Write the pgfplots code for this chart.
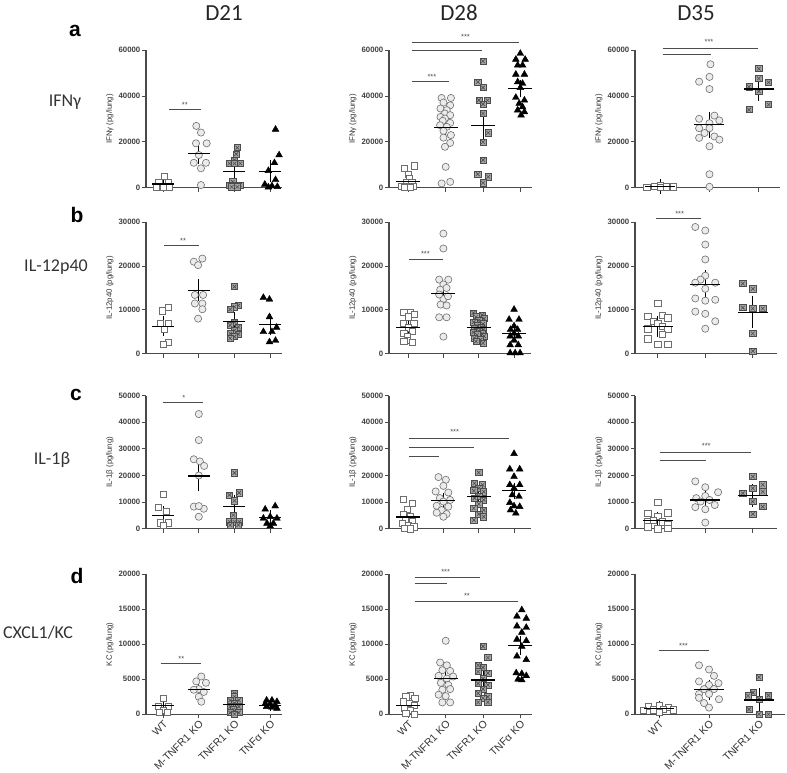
\documentclass[border=0pt]{standalone}
\usepackage{fontspec}
\setmainfont{Liberation Sans}
\newfontfamily\calfont{Carlito}
\usepackage{pgfplots}
\pgfplotsset{compat=1.18}
\definecolor{axgray}{HTML}{4A4A4A}
\definecolor{mkgray}{HTML}{6E6E6E}
\pgfdeclareplotmark{boxx}{%
  \pgfpathrectangle{\pgfqpoint{-\pgfplotmarksize}{-\pgfplotmarksize}}{\pgfqpoint{2\pgfplotmarksize}{2\pgfplotmarksize}}%
  \pgfusepathqfillstroke
  \pgfpathmoveto{\pgfqpoint{-0.6\pgfplotmarksize}{-0.6\pgfplotmarksize}}%
  \pgfpathlineto{\pgfqpoint{0.6\pgfplotmarksize}{0.6\pgfplotmarksize}}%
  \pgfpathmoveto{\pgfqpoint{-0.6\pgfplotmarksize}{0.6\pgfplotmarksize}}%
  \pgfpathlineto{\pgfqpoint{0.6\pgfplotmarksize}{-0.6\pgfplotmarksize}}%
  \pgfusepathqstroke
}
\pgfplotsset{
  panel/.style={
    scale only axis, anchor=south west,
    axis x line=bottom, axis y line=left,
    axis line style={-, draw=axgray, line width=1.1pt},
    ymin=0, enlargelimits=false, clip=false,
    xtick={0,1,2,3}, xticklabels={},
    tick style={draw=axgray, line width=1pt},
    tick align=outside, major tick length=4pt,
    yticklabel style={font=\fontsize{7.8}{8}\selectfont\bfseries, text=black!75, inner sep=1.5pt},
    xticklabel style={font=\fontsize{10.5}{11}\selectfont, text=black!80, rotate=45, anchor=north east, inner sep=1pt},
    ylabel style={font=\fontsize{7.8}{8}\selectfont, text=black!80},
    scaled y ticks=false,
    /pgf/number format/1000 sep={},
    /pgf/number format/assume math mode=true,
  },
  rowa/.style={at={(#1,584.2pt)}, height=137.5pt, ymax=60000, ytick={0,20000,40000,60000}, ylabel={IFNγ (pg/lung)}},
  rowb/.style={at={(#1,418.3pt)}, height=131.5pt, ymax=30000, ytick={0,10000,20000,30000}, ylabel={IL-12p40 (pg/lung)}},
  rowc/.style={at={(#1,243.3pt)}, height=133pt, ymax=50000, ytick={0,10000,20000,30000,40000,50000}, ylabel={IL-1β (pg/lung)}},
  rowd/.style={at={(#1,57.7pt)}, height=140pt, ymax=20000, ytick={0,5000,10000,15000,20000}, ylabel={KC (pg/lung)}},
  wt/.style={only marks, mark=square*, mark size=3.1pt, mark options={fill=white, draw=mkgray, line width=0.6pt}},
  mko/.style={only marks, mark=*, mark size=3.6pt, mark options={fill=black!8, draw=mkgray, line width=0.6pt}},
  tko/.style={only marks, mark=boxx, mark size=3.1pt, mark options={fill=black!35, draw=black!70, line width=0.6pt}},
  tnf/.style={only marks, mark=triangle*, mark size=3.9pt, mark options={fill=black, draw=black}},
  meanbar/.style n args={2}{only marks, mark=-, mark size=#1, mark options={draw=black, line width=1.1pt},
    /pgfplots/error bars/y dir=both, /pgfplots/error bars/y explicit,
    /pgfplots/error bars/error bar style={draw=black, line width=0.9pt},
    /pgfplots/error bars/error mark options={draw=black, line width=0.9pt, mark size=#2}},
  sig/.style={draw=black!70, line width=1pt},
}
\tikzset{star/.style={font=\fontsize{7.5}{8}\selectfont, text=black!70, inner sep=0pt}}
\begin{document}
\begin{tikzpicture}
\useasboundingbox (0,0) rectangle (787pt,772pt);
% headings
\node[font=\calfont\fontsize{23}{26}\selectfont, text=black!85] at (224pt,759pt) {D21};
\node[font=\calfont\fontsize{23}{26}\selectfont, text=black!85] at (459pt,759pt) {D28};
\node[font=\calfont\fontsize{23}{26}\selectfont, text=black!85] at (696pt,759pt) {D35};
\node[font=\bfseries\fontsize{21}{24}\selectfont] at (75pt,741pt) {a};
\node[font=\bfseries\fontsize{21}{24}\selectfont] at (77pt,557pt) {b};
\node[font=\bfseries\fontsize{21}{24}\selectfont] at (76pt,377pt) {c};
\node[font=\bfseries\fontsize{21}{24}\selectfont] at (77pt,196pt) {d};
\node[font=\calfont\fontsize{18}{20}\selectfont, text=black!80] at (65pt,670pt) {IFNγ};
\node[font=\calfont\fontsize{18}{20}\selectfont, text=black!80] at (56pt,505pt) {IL-12p40};
\node[font=\calfont\fontsize{18}{20}\selectfont, text=black!80] at (52pt,312pt) {IL-1β};
\node[font=\calfont\fontsize{18}{20}\selectfont, text=black!80] at (38pt,139pt) {CXCL1/KC};

% ===== Row a =====
\begin{axis}[panel, rowa=146pt, width=136.3pt, xmin=-0.48, xmax=3.34]
\addplot[wt] coordinates {(0.03,5100) (-0.12,2300) (0.14,2300) (-0.2,300) (0,300) (0.18,300)};
\addplot[mko] coordinates {(0.93,27000) (1.06,24100) (0.92,19400) (1.22,19400) (1.0,14300) (0.86,10900) (1.2,10900) (1.06,8500) (1.06,1200)};
\addplot[tko] coordinates {(2.08,17500) (2.05,14700) (2.0,12100) (1.86,10600) (2.0,10600) (2.16,10600) (1.95,2600) (1.86,1200) (2.0,1200) (2.15,1200) (1.92,400) (2.08,400)};
\addplot[tnf] coordinates {(3.15,25500) (3.25,14300) (3.12,10900) (2.95,7500) (3.15,3500) (2.85,1500) (3.05,800) (3.2,500) (2.95,300)};
\addplot[meanbar={11pt}{4.5pt}] coordinates {(0,1650) +- (0,800) (1,15000) +- (0,2700) (2,7000) +- (0,2000) (3,7300) +- (0,2900)};
\addplot[sig] coordinates {(0.17,34000) (1.05,34000)};
\node[star] at (axis cs:0.61,36200) {**};
\end{axis}

\begin{axis}[panel, rowa=389pt, width=142.5pt, xmin=-0.52, xmax=3.3]
\addplot[wt] coordinates {(0.15,9600) (-0.11,8400) (0,5960) (0.03,4070) (-0.06,2180) (0.09,2180) (-0.18,730) (0.14,730) (-0.03,440) (0.05,300) (-0.1,200)};
\addplot[mko] coordinates {(0.89,39200) (1.14,39200) (0.94,37200) (1.12,36000) (0.86,34600) (1.03,33900) (0.98,32400) (1.12,31700) (0.86,30900) (0.98,30200) (0.92,29200) (1.12,28300) (0.85,27300) (1.03,26600) (0.94,24800) (1.14,23000) (0.94,21900) (1.12,19600) (0.98,17900) (1.0,9150) (1.12,2600) (0.89,1900)};
\addplot[tko] coordinates {(2,55200) (1.86,46200) (2,43700) (1.89,38200) (2.12,38200) (2,36500) (2,32400) (2.14,24000) (2,20000) (2,12100) (1.86,5960) (2.14,4800) (2,2180)};
\addplot[tnf] coordinates {(3,58600) (2.88,56000) (3.13,56000) (2.93,53500) (3.06,53500) (2.88,49500) (3.11,49500) (2.93,46200) (3.06,45500) (3,43700) (2.88,39400) (3.11,38200) (2.97,36800) (3.06,35300) (2.93,33900) (3.11,33100) (3.02,31700)};
\addplot[meanbar={12pt}{4.5pt}] coordinates {(0,2900) +- (0,900) (1,26200) +- (0,1800) (2,27300) +- (0,4900) (3,43300) +- (0,1900)};
\addplot[sig] coordinates {(0.09,46200) (1.1,46200)};
\addplot[sig] coordinates {(0.09,60000) (1.96,60000)};
\addplot[sig] coordinates {(0.09,63200) (2.97,63200)};
\node[star] at (axis cs:0.63,48400) {***};
\node[star] at (axis cs:1.53,65800) {***};
\end{axis}

\begin{axis}[panel, rowa=635pt, width=145pt, xmin=-0.51, xmax=2.43, xtick={0,1,2}]
\addplot[wt] coordinates {(-0.27,150) (-0.12,700) (0.01,1150) (0.01,300) (0.13,430) (0.26,430)};
\addplot[mko] coordinates {(1.02,53900) (1,48400) (0.79,46300) (1,43100) (1.1,31500) (0.79,30100) (1.2,29400) (1,28200) (0.79,26000) (1,26000) (0.9,23900) (1.1,22400) (0.79,21800) (1.2,21000) (1,18100) (1,5900) (1,430)};
\addplot[tko] coordinates {(2,52000) (2,47700) (2.2,46000) (1.8,44100) (2,42100) (2.2,36300) (1.8,34100)};
\addplot[meanbar={15pt}{7pt}] coordinates {(0,500) +- (0,200) (1,27600) +- (0,2600) (2,43100) +- (0,2100)};
\addplot[sig] coordinates {(0.05,58300) (1.03,58300)};
\addplot[sig] coordinates {(0.05,61000) (1.98,61000)};
\node[star] at (axis cs:0.99,63800) {***};
\end{axis}

% ===== Row b =====
\begin{axis}[panel, rowb=146pt, width=136.3pt, xmin=-0.48, xmax=3.34]
\addplot[wt] coordinates {(0.14,10500) (-0.03,9770) (-0.09,6870) (0.14,6870) (0.03,5500) (0.14,2670) (0,2140)};
\addplot[mko] coordinates {(1.1,21700) (0.86,21000) (0.98,20200) (1.12,13400) (0.89,13400) (0.89,11450) (1.1,11450) (1.1,10150) (0.98,8000)};
\addplot[tko] coordinates {(2,15300) (2.11,11000) (2,10700) (1.88,10100) (2,7250) (1.88,6500) (2.11,6100) (2,5350) (1.88,4600) (2.11,4450) (2,3900) (1.88,3500)};
\addplot[tnf] coordinates {(2.81,12800) (2.98,12400) (2.98,8400) (2.81,5000) (3.05,5000) (2.98,2670) (3.15,3000) (3.18,6000)};
\addplot[meanbar={11pt}{4.5pt}] coordinates {(0,6260) +- (0,1200) (1,14500) +- (0,1500) (2,7400) +- (0,1100) (3,6700) +- (0,1400)};
\addplot[sig] coordinates {(0.03,24600) (1.01,24600)};
\node[star] at (axis cs:0.56,25700) {**};
\end{axis}

\begin{axis}[panel, rowb=389pt, width=142pt, xmin=-0.54, xmax=3.48]
\addplot[wt] coordinates {(-0.12,9500) (0.07,9500) (0.18,8900) (0,8400) (-0.14,7000) (0.16,7000) (0,5900) (-0.12,4700) (0.11,5100) (-0.03,4000) (-0.03,3050) (0.11,2600) (-0.12,2800)};
\addplot[mko] coordinates {(1,27400) (1,24000) (0.88,16900) (1.14,16900) (1,15800) (0.91,14600) (1.09,15000) (1,12500) (0.88,13500) (1.13,13100) (0.92,11200) (1.09,11000) (0.88,8300) (1.09,8300) (1,3900)};
\addplot[tko] coordinates {(1.85,9300) (2.1,8800) (1.92,8400) (2.15,8000) (2.0,7600) (1.86,7200) (2.12,6800) (1.95,6400) (2.08,6100) (1.88,5800) (2.14,5500) (2.0,5200) (1.85,4900) (2.1,4600) (1.95,4300) (2.15,4000) (1.88,3600) (2.05,3200) (1.92,2800) (2.12,2400)};
\addplot[tnf] coordinates {(3,10100) (2.86,7800) (3.14,7800) (3,6300) (2.9,5500) (3.1,5500) (3,4600) (2.89,4000) (3.12,4000) (3,3050) (2.89,2000) (3.12,2000) (2.89,150) (3.03,150) (3.17,150)};
\addplot[meanbar={12pt}{4.5pt}] coordinates {(0,5900) +- (0,700) (1,13700) +- (0,1200) (2,6000) +- (0,500) (3,4650) +- (0,800)};
\addplot[sig] coordinates {(0.02,21400) (1.0,21400)};
\node[star] at (axis cs:0.49,22700) {***};
\end{axis}

\begin{axis}[panel, rowb=635pt, width=141.5pt, xmin=-0.48, xmax=2.5, xtick={0,1,2}]
\addplot[wt] coordinates {(0,11500) (-0.21,8500) (0.1,8700) (0.21,8200) (-0.1,7400) (0,7000) (-0.21,5700) (0.1,6300) (0.21,5500) (0.1,4400) (-0.21,3400) (0,2100) (0.21,2100)};
\addplot[mko] coordinates {(0.79,28900) (1,28100) (1,24900) (1,21500) (1,17800) (0.9,16900) (0.79,16200) (1.21,16200) (1,14800) (0.79,12600) (1,12100) (1.21,12300) (0.79,9600) (1,9100) (1.21,7400) (1,5700)};
\addplot[tko] coordinates {(1.79,16000) (2,14800) (1.79,10500) (2,10300) (2.21,10300) (2,4600) (2,600)};
\addplot[meanbar={15pt}{7pt}] coordinates {(0,6200) +- (0,700) (1,15800) +- (0,1700) (2,9500) +- (0,2000)};
\addplot[sig] coordinates {(-0.04,30800) (0.91,30800)};
\node[star] at (axis cs:0.46,31900) {***};
\end{axis}

% ===== Row c =====
\begin{axis}[panel, rowc=146pt, width=136.3pt, xmin=-0.48, xmax=3.34]
\addplot[wt] coordinates {(0,13000) (-0.14,7900) (0.09,6600) (-0.09,2250) (0.14,2250) (0,1400)};
\addplot[mko] coordinates {(1,43100) (1,33300) (0.86,26100) (1.03,25300) (1.15,23600) (1,20000) (0.86,8300) (1.14,7500) (1,8500) (1,4500)};
\addplot[tko] coordinates {(2,21000) (2.13,13500) (1.86,12700) (2,10500) (1.97,5100) (1.86,2600) (2,2600) (2.14,2600) (1.88,1400) (2.11,1400)};
\addplot[tnf] coordinates {(2.86,7300) (3.14,8500) (3,4500) (2.81,3900) (3.19,3900) (2.91,2000) (3.09,2000) (3,1000)};
\addplot[meanbar={11pt}{4.5pt}] coordinates {(0,5100) +- (0,1700) (1,19800) +- (0,4000) (2,8500) +- (0,2600) (3,4300) +- (0,1000)};
\addplot[sig] coordinates {(0,47400) (1.12,47400)};
\node[star] at (axis cs:0.58,49000) {*};
\end{axis}

\begin{axis}[panel, rowc=389pt, width=142pt, xmin=-0.54, xmax=3.48]
\addplot[wt] coordinates {(-0.14,11200) (0.11,9600) (-0.03,7300) (-0.14,5500) (0.07,4800) (-0.08,3500) (0.11,2600) (-0.17,2000) (0,1400) (0.16,750) (-0.1,250) (0.07,0)};
\addplot[mko] coordinates {(0.86,19400) (1.07,18400) (1,16100) (0.78,14000) (1.14,13600) (0.9,11500) (1.19,10800) (1,10200) (0.81,8600) (1.14,8300) (0.95,7000) (0.81,6000) (1.09,5500) (1,4500)};
\addplot[tko] coordinates {(2,21100) (1.88,17100) (2.11,16500) (2,15200) (1.86,14300) (2.14,13900) (2,12300) (1.88,11500) (2.14,10800) (2,9300) (1.86,7700) (2.14,7000) (2,5500) (1.86,3300) (2.14,4500)};
\addplot[tnf] coordinates {(3,28200) (2.88,22400) (3.16,22400) (3,19600) (2.88,16500) (3.16,16500) (3,15200) (2.95,12700) (3.14,12100) (2.88,9800) (3,8500) (3.16,8300) (3.05,5800) (2.9,7000)};
\addplot[meanbar={12pt}{4.5pt}] coordinates {(0,4400) +- (0,1000) (1,10600) +- (0,1100) (2,12000) +- (0,1200) (3,14200) +- (0,1400)};
\addplot[sig] coordinates {(0.02,27200) (0.88,27200)};
\addplot[sig] coordinates {(0.02,30700) (1.86,30700)};
\addplot[sig] coordinates {(0.02,33800) (2.85,33800)};
\node[star] at (axis cs:1.32,36300) {***};
\end{axis}

\begin{axis}[panel, rowc=635pt, width=141.5pt, xmin=-0.48, xmax=2.5, xtick={0,1,2}]
\addplot[wt] coordinates {(0,9800) (-0.21,5800) (0.21,6000) (0,4800) (-0.21,2600) (-0.1,3300) (0.1,2600) (0.21,1800) (-0.21,750) (0,0) (0.21,250)};
\addplot[mko] coordinates {(0.79,17800) (1,15600) (1.27,13700) (0.81,11500) (1,12300) (1.09,10800) (0.9,10200) (1.2,8900) (0.79,8100) (1,7300) (1,2300)};
\addplot[tko] coordinates {(2,19600) (2.21,16500) (2,15200) (1.79,13300) (2.21,13900) (2,10200) (2.21,8300) (2,5500)};
\addplot[meanbar={15pt}{7pt}] coordinates {(0,3000) +- (0,800) (1,10800) +- (0,1200) (2,12500) +- (0,1600)};
\addplot[sig] coordinates {(0.04,25600) (1.02,25600)};
\addplot[sig] coordinates {(0.04,28600) (1.96,28600)};
\node[star] at (axis cs:1.02,31000) {***};
\end{axis}

% ===== Row d =====
\begin{axis}[panel, rowd=146pt, width=136.3pt, xmin=-0.48, xmax=3.34, xticklabels={WT,M-TNFR1 KO,TNFR1 KO,TNFα KO}]
\addplot[wt] coordinates {(0,2300) (-0.14,1200) (0.14,1200) (0,620) (-0.11,240) (0.11,240)};
\addplot[mko] coordinates {(1.07,5400) (0.93,4700) (1.2,4500) (1,3600) (0.86,3500) (1.14,3200) (1,2500) (1.07,1800)};
\addplot[tko] coordinates {(2,3000) (2,2500) (1.88,2000) (2.12,2000) (2,1600) (1.88,1100) (2.12,1100) (1.97,700) (1.88,240) (2.12,240) (2,50)};
\addplot[tnf] coordinates {(2.9,2000) (3.05,2000) (3.19,1800) (2.86,1500) (3,1450) (3.14,1300) (2.9,1100) (3.05,1000) (3.19,850)};
\addplot[meanbar={11pt}{4.5pt}] coordinates {(0,1200) +- (0,350) (1,3500) +- (0,450) (2,1400) +- (0,300) (3,1300) +- (0,150)};
\addplot[sig] coordinates {(-0.07,7200) (1.07,7200)};
\node[star] at (axis cs:0.51,7850) {**};
\end{axis}

\begin{axis}[panel, rowd=389pt, width=142.5pt, xmin=-0.52, xmax=3.3, xticklabels={WT,M-TNFR1 KO,TNFR1 KO,TNFα KO}]
\addplot[wt] coordinates {(0.06,2700) (-0.07,2500) (0.17,2300) (-0.13,1800) (0.02,1600) (0.15,1300) (-0.12,860) (0.06,620) (-0.07,140) (0.15,50)};
\addplot[mko] coordinates {(1,10500) (0.85,7400) (1.03,7000) (0.91,6300) (1.12,6200) (0.81,5500) (1.03,5100) (1.2,5400) (0.87,4500) (1.07,4200) (0.91,3500) (1.12,3600) (0.81,2800) (1,2600) (0.91,1700) (1.12,1700)};
\addplot[tko] coordinates {(2,9700) (2.13,8100) (1.87,7000) (2,6700) (1.87,6100) (2.13,5900) (2,5100) (1.87,4400) (2.13,4200) (2,3600) (1.87,3000) (2.13,2500) (2,2300) (1.87,1700) (2.13,1700)};
\addplot[tnf] coordinates {(3.04,14900) (2.91,14000) (3.16,13700) (2.91,12600) (3.16,12400) (3.04,11700) (2.91,10700) (3.16,10500) (3.04,9700) (2.91,8300) (3.16,7800) (2.89,5900) (3.04,5800) (3.16,5500) (3.04,4900) (2.94,5000)};
\addplot[meanbar={12pt}{4.5pt}] coordinates {(0,1200) +- (0,300) (1,5100) +- (0,600) (2,4900) +- (0,650) (3,9800) +- (0,750)};
\addplot[sig] coordinates {(0.17,18700) (1.04,18700)};
\addplot[sig] coordinates {(0.17,19500) (1.92,19500)};
\addplot[sig] coordinates {(0.17,16100) (2.94,16100)};
\node[star] at (axis cs:1.0,20400) {***};
\node[star] at (axis cs:1.57,16900) {**};
\end{axis}

\begin{axis}[panel, rowd=635pt, width=150pt, xmin=-0.48, xmax=2.52, xtick={0,1,2}, xticklabels={WT,M-TNFR1 KO,TNFR1 KO}]
\addplot[wt] coordinates {(-0.21,1200) (0,1300) (0.19,1050) (-0.11,630) (0.09,750) (-0.31,540) (0.29,630) (0,330)};
\addplot[mko] coordinates {(0.8,7000) (1,6400) (1.1,5500) (0.8,4700) (1.19,4450) (1,4200) (0.9,3600) (1.1,3600) (0.8,2900) (1,2900) (1.2,2150) (0.8,2350) (1,960) (0.9,1600)};
\addplot[tko] coordinates {(2,5300) (1.88,3100) (1.78,2650) (2.19,2700) (2,2200) (1.8,700) (2,0) (2.19,0)};
\addplot[meanbar={15pt}{7pt}] coordinates {(0,800) +- (0,150) (1,3500) +- (0,450) (2,2050) +- (0,650)};
\addplot[sig] coordinates {(-0.01,9140) (1.0,9140)};
\node[star] at (axis cs:0.49,9800) {***};
\end{axis}
\end{tikzpicture}
\end{document}
